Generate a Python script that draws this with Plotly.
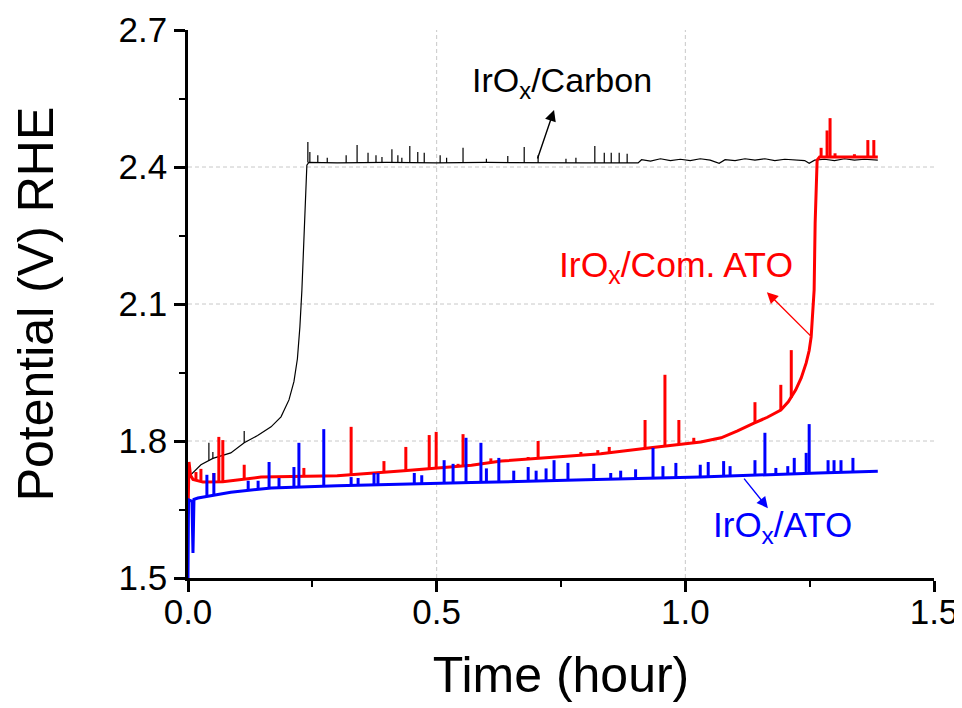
import plotly.graph_objects as go

# IrOx/Carbon - main trace
carbon_t = [0.000, 0.006, 0.026, 0.050, 0.086, 0.113, 0.140, 0.167, 0.187, 0.203,
            0.213, 0.220, 0.225, 0.229, 0.232, 0.235, 0.237, 0.239, 0.243,
            0.30, 0.40, 0.50, 0.60, 0.70, 0.80, 0.905, 0.912, 0.93, 0.95, 0.97,
            0.99, 1.01, 1.03, 1.05, 1.068, 1.08, 1.10, 1.12, 1.14, 1.16, 1.18,
            1.20, 1.22, 1.24, 1.249, 1.26, 1.28, 1.30, 1.32, 1.34, 1.36, 1.387]
carbon_v = [1.720, 1.726, 1.748, 1.762, 1.774, 1.796, 1.812, 1.831, 1.853, 1.890,
            1.930, 1.980, 2.050, 2.130, 2.220, 2.310, 2.360, 2.404, 2.410,
            2.409, 2.410, 2.409, 2.410, 2.409, 2.409, 2.409, 2.416, 2.413, 2.418, 2.414,
            2.417, 2.414, 2.418, 2.415, 2.408, 2.416, 2.414, 2.418, 2.415, 2.418, 2.414,
            2.417, 2.415, 2.414, 2.408, 2.415, 2.417, 2.414, 2.418, 2.415, 2.417, 2.415]
# IrOx/Carbon - spikes (time, baseline, peak)
carbon_spk_t = [0.042, 0.050, 0.113, 0.241, 0.245, 0.261, 0.280, 0.318, 0.340, 0.362,
                0.378, 0.390, 0.410, 0.422, 0.430, 0.446, 0.462, 0.475, 0.507, 0.520,
                0.553, 0.600, 0.643, 0.676, 0.704, 0.760, 0.780, 0.818, 0.837, 0.851,
                0.867, 0.883]
carbon_spk_lo = [1.757, 1.762, 1.796, 2.410, 2.410, 2.409, 2.409, 2.409, 2.409, 2.409,
                 2.409, 2.409, 2.409, 2.409, 2.409, 2.409, 2.409, 2.409, 2.409, 2.409,
                 2.409, 2.409, 2.409, 2.409, 2.409, 2.409, 2.409, 2.409, 2.409, 2.409,
                 2.409, 2.409]
carbon_spk_hi = [1.796, 1.776, 1.822, 2.455, 2.433, 2.426, 2.420, 2.426, 2.448, 2.431,
                 2.426, 2.422, 2.439, 2.426, 2.420, 2.446, 2.433, 2.431, 2.426, 2.420,
                 2.442, 2.418, 2.424, 2.444, 2.426, 2.418, 2.420, 2.446, 2.431, 2.431,
                 2.431, 2.429]

# IrOx/Com. ATO
comato_t = [0.000, 0.002, 0.005, 0.010, 0.030, 0.070, 0.147, 0.300, 0.434, 0.570,
            0.630, 0.730, 0.830, 0.930, 1.031, 1.072, 1.105, 1.138, 1.165, 1.192,
            1.207, 1.222, 1.233, 1.243, 1.249, 1.253, 1.256, 1.259, 1.261, 1.2635,
            1.265, 1.270, 1.387]
comato_v = [1.640, 1.754, 1.725, 1.716, 1.710, 1.711, 1.721, 1.724, 1.735, 1.747,
            1.756, 1.764, 1.772, 1.785, 1.798, 1.807, 1.822, 1.839, 1.852, 1.868,
            1.886, 1.912, 1.938, 1.971, 1.998, 2.028, 2.070, 2.131, 2.277, 2.350,
            2.415, 2.422, 2.422]
comato_spk_t = [0.016, 0.026, 0.052, 0.062, 0.070, 0.113, 0.233, 0.328, 0.394, 0.438,
                0.485, 0.499, 0.543, 0.553, 0.609, 0.684, 0.704, 0.790, 0.824, 0.847,
                0.919, 0.959, 0.987, 1.017, 1.140, 1.192, 1.213, 1.273, 1.285, 1.291,
                1.301, 1.340, 1.367, 1.379]
comato_spk_lo = [1.714, 1.711, 1.710, 1.710, 1.711, 1.716, 1.722, 1.725, 1.730, 1.735,
                 1.739, 1.740, 1.744, 1.745, 1.753, 1.760, 1.762, 1.769, 1.771, 1.774,
                 1.784, 1.789, 1.792, 1.796, 1.840, 1.868, 1.895, 2.422, 2.422, 2.422,
                 2.422, 2.422, 2.422, 2.422]
comato_spk_hi = [1.732, 1.739, 1.730, 1.809, 1.802, 1.748, 1.741, 1.831, 1.756, 1.787,
                 1.813, 1.820, 1.750, 1.815, 1.762, 1.765, 1.800, 1.776, 1.780, 1.787,
                 1.846, 1.945, 1.846, 1.807, 1.885, 1.923, 1.999, 2.442, 2.480, 2.507,
                 2.430, 2.428, 2.459, 2.459]

# IrOx/ATO
ato_t = [0.000, 0.001, 0.008, 0.010, 0.012, 0.020, 0.086, 0.167, 0.300, 0.430,
         0.570, 0.800, 1.030, 1.267, 1.387]
ato_v = [1.500, 1.671, 1.668, 1.555, 1.672, 1.675, 1.688, 1.697, 1.702, 1.706,
         1.709, 1.715, 1.721, 1.730, 1.734]
ato_spk_t = [0.038, 0.052, 0.121, 0.141, 0.163, 0.183, 0.213, 0.223, 0.273, 0.328,
             0.342, 0.374, 0.382, 0.455, 0.470, 0.515, 0.533, 0.559, 0.589, 0.600,
             0.625, 0.655, 0.684, 0.700, 0.720, 0.736, 0.764, 0.816, 0.850, 0.870,
             0.900, 0.935, 0.955, 0.981, 1.030, 1.046, 1.077, 1.090, 1.140, 1.160,
             1.182, 1.206, 1.219, 1.243, 1.249, 1.287, 1.299, 1.313, 1.337]
ato_spk_lo = [1.680, 1.683, 1.692, 1.694, 1.697, 1.698, 1.699, 1.699, 1.701, 1.703,
              1.703, 1.704, 1.704, 1.707, 1.707, 1.708, 1.708, 1.709, 1.709, 1.710,
              1.710, 1.711, 1.712, 1.712, 1.712, 1.713, 1.714, 1.715, 1.716, 1.716,
              1.717, 1.718, 1.719, 1.720, 1.721, 1.722, 1.723, 1.723, 1.725, 1.726,
              1.727, 1.728, 1.728, 1.729, 1.729, 1.731, 1.731, 1.732, 1.732]
ato_spk_hi = [1.726, 1.730, 1.713, 1.713, 1.754, 1.719, 1.743, 1.796, 1.826, 1.721,
              1.719, 1.730, 1.730, 1.730, 1.725, 1.758, 1.750, 1.807, 1.796, 1.740,
              1.763, 1.735, 1.743, 1.735, 1.740, 1.758, 1.752, 1.750, 1.730, 1.735,
              1.738, 1.785, 1.745, 1.752, 1.748, 1.754, 1.756, 1.745, 1.758, 1.818,
              1.741, 1.745, 1.763, 1.774, 1.837, 1.758, 1.758, 1.758, 1.763]

x_ticks = [0.0, 0.5, 1.0, 1.5]
y_ticks = [1.5, 1.8, 2.1, 2.4, 2.7]

FONT = "Liberation Sans, Arial, sans-serif"


def spikes(t, lo, hi):
    """vertical segments separated by gaps"""
    xs, ys = [], []
    for a, b, c in zip(t, lo, hi):
        xs += [a, a, None]
        ys += [b, c, None]
    return xs, ys


fig = go.Figure()

series = [
    (carbon_t, carbon_v, carbon_spk_t, carbon_spk_lo, carbon_spk_hi, '#000000', 1.2),
    (comato_t, comato_v, comato_spk_t, comato_spk_lo, comato_spk_hi, '#FF0000', 3),
    (ato_t, ato_v, ato_spk_t, ato_spk_lo, ato_spk_hi, '#0000FF', 3),
]
for t, v, st, slo, shi, color, w in series:
    fig.add_trace(go.Scatter(x=t, y=v, mode='lines',
                             line=dict(color=color, width=w), showlegend=False))
    sx, sy = spikes(st, slo, shi)
    fig.add_trace(go.Scatter(x=sx, y=sy, mode='lines', connectgaps=False,
                             line=dict(color=color, width=w), showlegend=False))

# dashed grid (not on the frame edges)
for gx in x_ticks[1:-1]:
    fig.add_shape(type='line', x0=gx, x1=gx, y0=y_ticks[0], y1=y_ticks[-1],
                  xref='x', yref='y', layer='below',
                  line=dict(color='#C8C8C8', width=1, dash='4px,3px'))
for gy in y_ticks[1:-1]:
    fig.add_shape(type='line', x0=x_ticks[0], x1=x_ticks[-1], y0=gy, y1=gy,
                  xref='x', yref='y', layer='below',
                  line=dict(color='#C8C8C8', width=1, dash='4px,3px'))

# labels
labels = [
    ("IrO<sub>x</sub>/Carbon", 0.752, 2.584, '#000000', 34),
    ("IrO<sub>x</sub>/Com. ATO", 0.981, 2.18, '#FF0000', 35.5),
    ("IrO<sub>x</sub>/ATO", 1.196, 1.611, '#0000FF', 35),
]
for txt, lx, ly, color, fs in labels:
    fig.add_annotation(x=lx, y=ly, xref='x', yref='y', text=txt, showarrow=False,
                       xanchor='center', yanchor='middle',
                       font=dict(family=FONT, size=fs, color=color))

# arrows (head at x,y; tail offset ax,ay in px)
arrows = [
    (0.736, 2.525, -17, 50, '#000000'),
    (1.164, 2.126, 45, 45, '#FF0000'),
    (1.166, 1.653, -25, -31, '#0000FF'),
]
for hx, hy, ax, ay, color in arrows:
    fig.add_annotation(x=hx, y=hy, xref='x', yref='y', ax=ax, ay=ay, text='',
                       showarrow=True, arrowhead=2, arrowsize=1.6, arrowwidth=1.4,
                       arrowcolor=color, standoff=0, startstandoff=0)

axis_common = dict(
    showline=True, linecolor='black', linewidth=2.5,
    ticks='outside', ticklen=11, tickwidth=2.5, tickcolor='black',
    showgrid=False, zeroline=False, tickformat='.1f', automargin=False,
    tickfont=dict(family=FONT, size=35, color='black'),
)

fig.update_layout(
    width=962, height=708,
    margin=dict(l=180, r=36, t=22, b=138),
    paper_bgcolor='white', plot_bgcolor='white',
    xaxis=dict(range=[0, 1.5], tickvals=x_ticks, ticklabelstandoff=-10,
               minor=dict(dtick=0.25, ticklen=6, tickwidth=2, ticks='outside', tickcolor='black'),
               title=dict(text='Time (hour)', standoff=28,
                          font=dict(family=FONT, size=50, color='black')),
               **axis_common),
    yaxis=dict(range=[1.5, 2.7], tickvals=y_ticks,
               minor=dict(dtick=0.15, ticklen=6, tickwidth=2, ticks='outside', tickcolor='black'),
               title=dict(text='Potential (V) RHE', standoff=50,
                          font=dict(family=FONT, size=50, color='black')),
               **axis_common),
)

fig.write_html("out.html")
